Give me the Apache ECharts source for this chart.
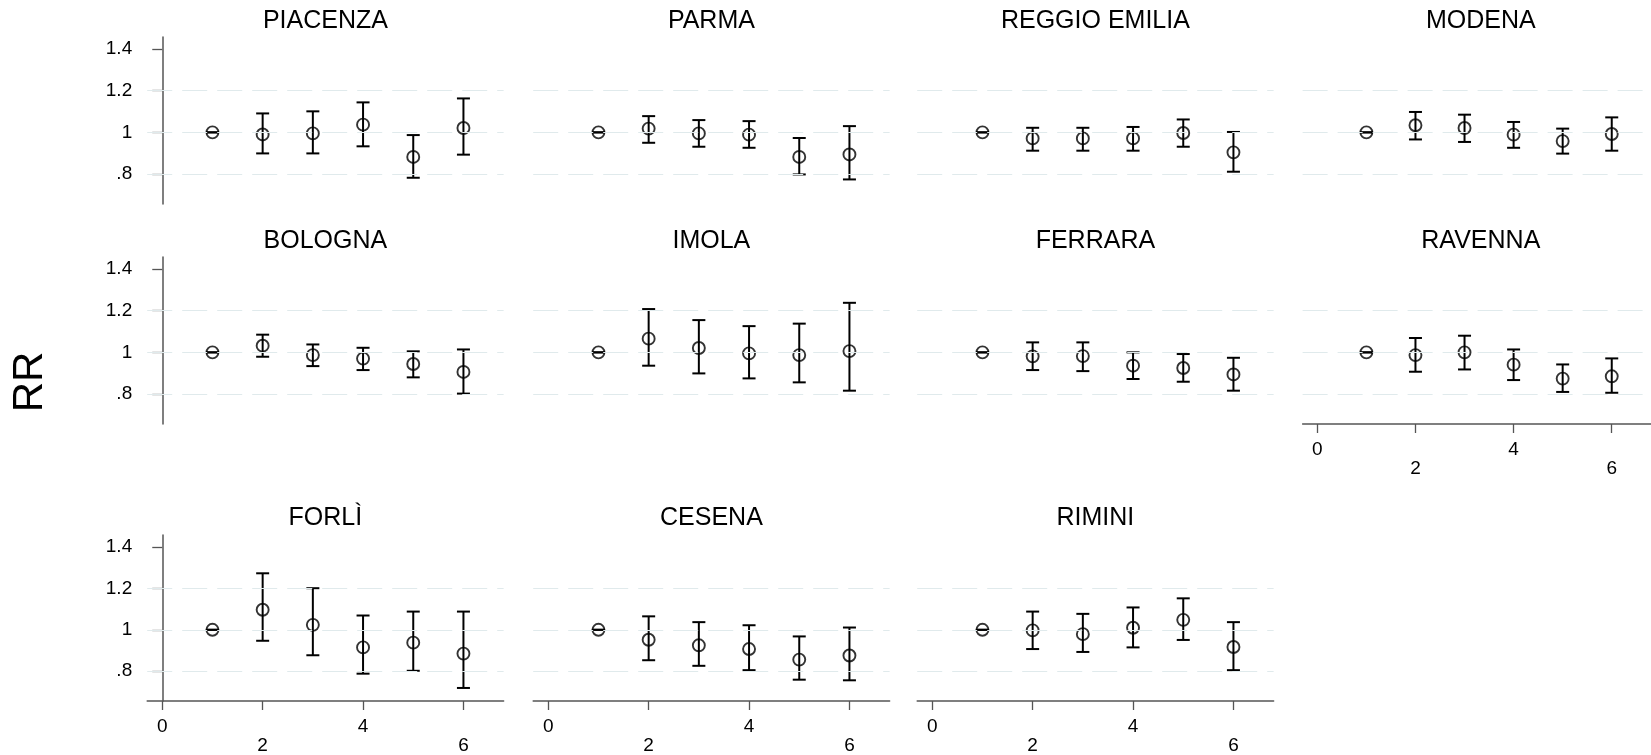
<!DOCTYPE html>
<html>
<head>
<meta charset="utf-8">
<script src="https://cdn.jsdelivr.net/npm/echarts@6/dist/echarts.min.js"></script>
<style>
  html, body { margin: 0; padding: 0; background: #fff; }
  #chart { width: 1651px; height: 755px; }
</style>
</head>
<body>
<div id="chart"></div>
<script>
const regions = ['PIACENZA', 'PARMA', 'REGGIO EMILIA', 'MODENA', 'BOLOGNA', 'IMOLA',
  'FERRARA', 'RAVENNA', 'FORLÌ', 'CESENA', 'RIMINI']
const lags = [1, 2, 3, 4, 5, 6]

// relative risk point estimates, one row per region
const rrPoint = [
  [1, 0.990, 0.995, 1.037, 0.882, 1.021], // Piacenza
  [1, 1.018, 0.995, 0.989, 0.882, 0.894], // Parma
  [1, 0.971, 0.971, 0.971, 0.997, 0.904], // Reggio Emilia
  [1, 1.034, 1.021, 0.989, 0.958, 0.992], // Modena
  [1, 1.032, 0.987, 0.970, 0.944, 0.906], // Bologna
  [1, 1.066, 1.021, 0.995, 0.987, 1.006], // Imola
  [1, 0.981, 0.982, 0.936, 0.925, 0.894], // Ferrara
  [1, 0.987, 1.000, 0.941, 0.874, 0.885], // Ravenna
  [1, 1.097, 1.024, 0.915, 0.938, 0.885], // Forlì
  [1, 0.952, 0.925, 0.907, 0.856, 0.876], // Cesena
  [1, 0.997, 0.979, 1.010, 1.048, 0.917]  // Rimini
]
const rrLower = [
  [1, 0.899, 0.899, 0.933, 0.782, 0.893],
  [1, 0.950, 0.931, 0.926, 0.798, 0.774],
  [1, 0.912, 0.912, 0.912, 0.931, 0.811],
  [1, 0.966, 0.954, 0.926, 0.898, 0.912],
  [1, 0.979, 0.934, 0.915, 0.880, 0.802],
  [1, 0.936, 0.899, 0.875, 0.856, 0.816],
  [1, 0.915, 0.910, 0.872, 0.859, 0.816],
  [1, 0.907, 0.918, 0.867, 0.810, 0.806],
  [1, 0.947, 0.877, 0.788, 0.802, 0.719],
  [1, 0.853, 0.826, 0.805, 0.759, 0.756],
  [1, 0.907, 0.893, 0.915, 0.951, 0.805]
]
const rrUpper = [
  [1, 1.091, 1.101, 1.144, 0.987, 1.163],
  [1, 1.078, 1.059, 1.054, 0.973, 1.030],
  [1, 1.022, 1.022, 1.026, 1.062, 1.002],
  [1, 1.098, 1.085, 1.050, 1.018, 1.072],
  [1, 1.085, 1.038, 1.022, 1.005, 1.014],
  [1, 1.208, 1.155, 1.126, 1.138, 1.238],
  [1, 1.048, 1.048, 1.000, 0.992, 0.974],
  [1, 1.069, 1.080, 1.014, 0.942, 0.971],
  [1, 1.273, 1.201, 1.069, 1.088, 1.088],
  [1, 1.065, 1.037, 1.022, 0.968, 1.011],
  [1, 1.088, 1.077, 1.108, 1.152, 1.037]
]

const xTicks = [0, 2, 4, 6]
const yTicks = [0.8, 1, 1.2, 1.4]
const gridLinesAt = [0.8, 1, 1.2]

// panel layout
const colLeft = [147.2, 533.2, 917.2, 1302.6]
const rowTop = [37, 257, 535]
const rowHeight = [167, 167, 166]
const titleY = [21, 241, 518]
const panelWidth = 356.4
const FONT = 'Liberation Sans'

const chart = echarts.init(document.getElementById('chart'))

const grids = [], xAxes = [], yAxes = [], series = [], texts = []

regions.forEach((name, i) => {
  const row = i < 4 ? 0 : i < 8 ? 1 : 2
  const col = i < 8 ? i % 4 : i - 8
  const showX = i >= 7
  const showY = col === 0

  grids.push({ left: colLeft[col], top: rowTop[row], width: panelWidth, height: rowHeight[row] })

  xAxes.push({
    type: 'value', gridIndex: i, min: -0.3, max: 6.8,
    axisLine: { show: showX, lineStyle: { color: '#555', width: 1.5 } },
    axisTick: { show: showX, customValues: xTicks, length: 9, lineStyle: { color: '#555', width: 1.3 } },
    axisLabel: {
      show: showX, customValues: xTicks, margin: 16, fontSize: 19, lineHeight: 19,
      fontFamily: FONT, color: '#000',
      formatter: v => (v / 2) % 2 === 1 ? '\n' + v : String(v)
    },
    splitLine: { show: false }
  })

  yAxes.push({
    type: 'value', gridIndex: i, min: 0.656, max: 1.458,
    axisLine: { show: showY, lineStyle: { color: '#555', width: 1.5 } },
    axisTick: { show: showY, customValues: yTicks, length: 10, lineStyle: { color: '#555', width: 1.3 } },
    axisLabel: {
      show: showY, customValues: yTicks, margin: 15, fontSize: 19,
      fontFamily: FONT, color: '#000',
      formatter: v => v === 1 ? '1' : v.toFixed(1).replace(/^0/, '')
    },
    splitLine: { show: false }
  })

  series.push({
    type: 'line', xAxisIndex: i, yAxisIndex: i, data: [], z: 1, silent: true,
    markLine: {
      silent: true, symbol: ['none', 'none'], label: { show: false }, animation: false,
      lineStyle: { color: '#e0eaec', type: [25, 10], width: 1.2 },
      data: gridLinesAt.map(v => ({ yAxis: v }))
    }
  })

  series.push({
    type: 'custom', xAxisIndex: i, yAxisIndex: i, z: 2,
    data: lags.map((x, k) => [x, rrLower[i][k], rrUpper[i][k]]),
    encode: { x: 0, y: [1, 2] },
    renderItem: (params, api) => {
      const x = api.value(0)
      const lo = api.coord([x, api.value(1)])
      const hi = api.coord([x, api.value(2)])
      const half = 6.5
      const style = { stroke: '#000', lineWidth: 2 }
      return {
        type: 'group',
        children: [
          { type: 'line', shape: { x1: lo[0], y1: lo[1], x2: hi[0], y2: hi[1] }, style },
          { type: 'line', shape: { x1: lo[0] - half, y1: lo[1], x2: lo[0] + half, y2: lo[1] }, style },
          { type: 'line', shape: { x1: hi[0] - half, y1: hi[1], x2: hi[0] + half, y2: hi[1] }, style }
        ]
      }
    }
  })

  series.push({
    type: 'scatter', xAxisIndex: i, yAxisIndex: i, z: 3,
    symbol: 'circle', symbolSize: 12,
    itemStyle: { color: 'rgba(0,0,0,0)', borderColor: '#000', borderWidth: 1.9 },
    data: lags.map((x, k) => [x, rrPoint[i][k]])
  })

  texts.push({
    type: 'text', x: colLeft[col] + panelWidth / 2, y: titleY[row],
    style: { text: name, fontSize: 25, fontFamily: FONT, fill: '#000', align: 'center', verticalAlign: 'middle' }
  })
})

texts.push({
  type: 'text', x: 30, y: 382, rotation: Math.PI / 2,
  style: { text: 'RR', fontSize: 42, fontFamily: FONT, fill: '#000', align: 'center', verticalAlign: 'middle' }
})

chart.setOption({
  animation: false,
  backgroundColor: '#fff',
  grid: grids,
  xAxis: xAxes,
  yAxis: yAxes,
  series: series,
  graphic: texts
})
</script>
</body>
</html>
